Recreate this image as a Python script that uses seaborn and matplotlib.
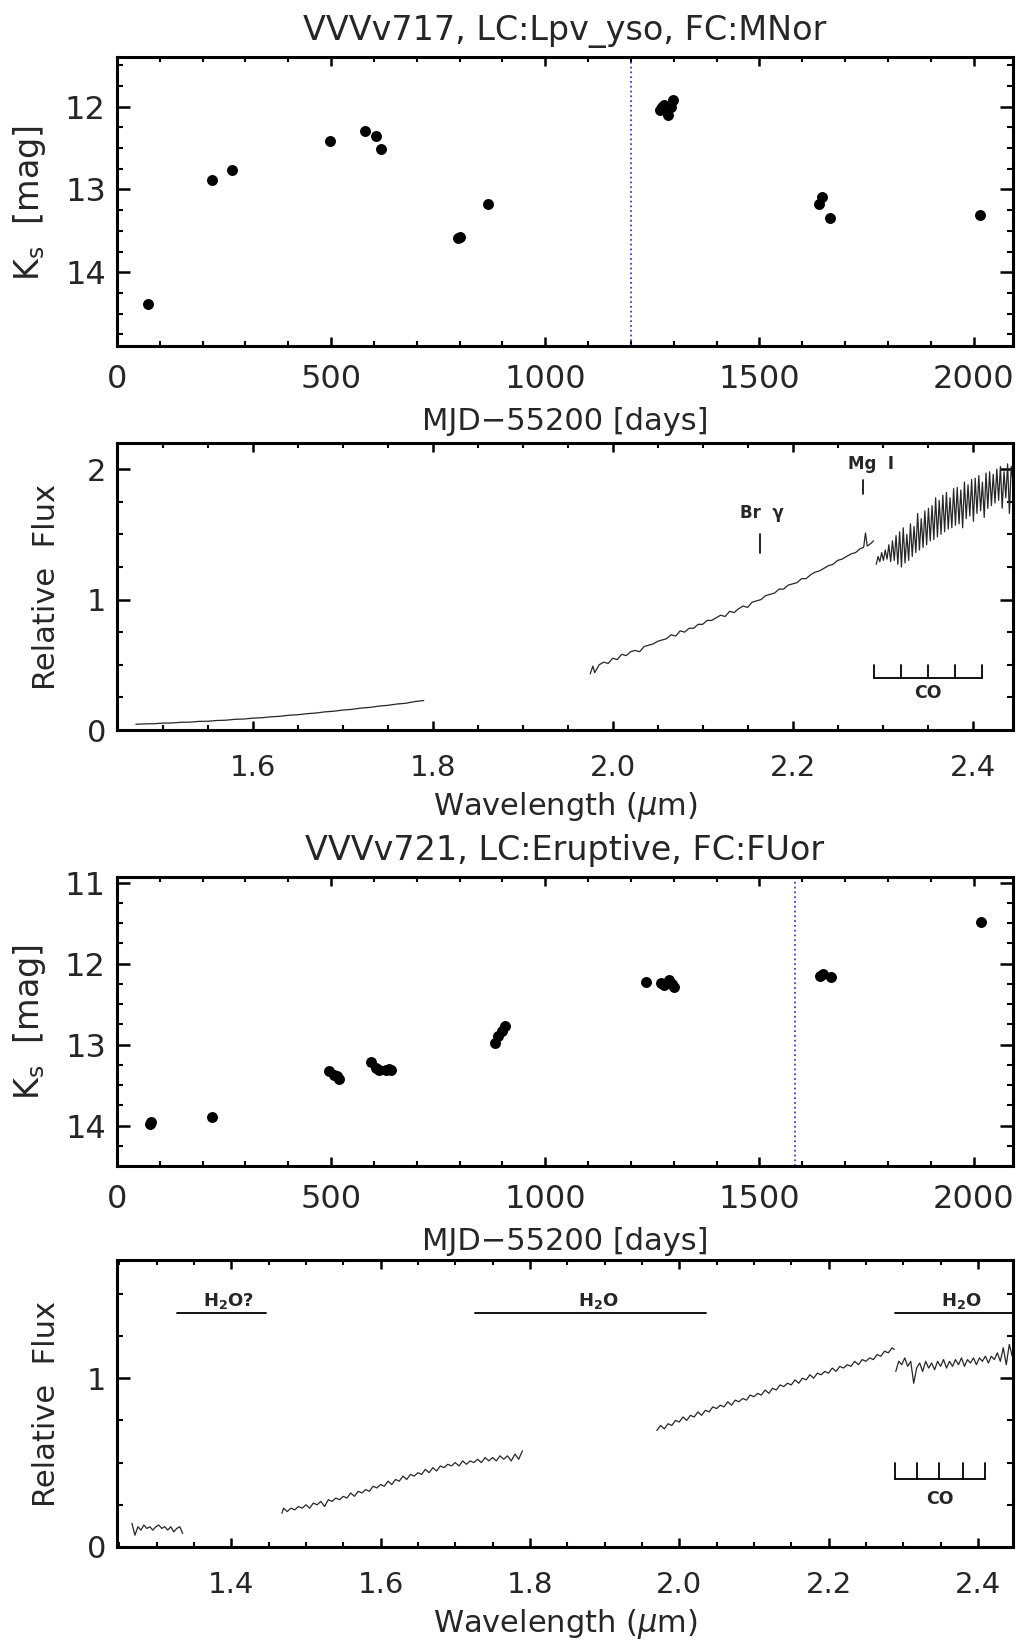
import numpy as np
import pandas as pd
import seaborn as sns
import matplotlib.pyplot as plt
from matplotlib.ticker import MultipleLocator

# ---- light curves ----
lc1_mjd = [72, 222, 268, 498, 579, 604, 616, 796, 800, 867,
           1268, 1272, 1278, 1287, 1293, 1298, 1640, 1646, 1664, 2014]
lc1_ks = [14.38, 12.88, 12.77, 12.41, 12.29, 12.36, 12.51, 13.58, 13.57, 13.17,
          12.04, 12.00, 11.98, 12.10, 12.00, 11.92, 13.18, 13.09, 13.34, 13.31]
lc1_line = 1200

lc2_mjd = [76, 80, 222, 496, 507, 513, 519, 593, 605, 612, 628, 634, 640,
           882, 890, 900, 906, 1236, 1271, 1278, 1289, 1295, 1301, 1641, 1649, 1667, 2017]
lc2_ks = [13.98, 13.96, 13.90, 13.33, 13.37, 13.39, 13.42, 13.22, 13.29, 13.31, 13.31, 13.30, 13.31,
          12.98, 12.89, 12.83, 12.77, 12.23, 12.24, 12.26, 12.20, 12.25, 12.29, 12.15, 12.13, 12.17, 11.49]
lc2_line = 1584

# ---- spectrum of VVVv717 (wavelength um, relative flux) ----
sp1_h = [(1.470, 0.044), (1.480, 0.047), (1.490, 0.048), (1.500, 0.053), (1.510, 0.054),
         (1.520, 0.059), (1.530, 0.060), (1.540, 0.066), (1.550, 0.067), (1.560, 0.073),
         (1.570, 0.075), (1.580, 0.082), (1.590, 0.084), (1.600, 0.091), (1.610, 0.094),
         (1.620, 0.101), (1.630, 0.105), (1.640, 0.113), (1.650, 0.117), (1.660, 0.125),
         (1.670, 0.130), (1.680, 0.139), (1.690, 0.144), (1.700, 0.153), (1.710, 0.158),
         (1.720, 0.168), (1.730, 0.173), (1.740, 0.183), (1.750, 0.189), (1.760, 0.199),
         (1.770, 0.205), (1.780, 0.218), (1.790, 0.226)]
sp1_k = [(1.975, 0.43), (1.978, 0.49), (1.980, 0.44), (1.985, 0.50), (1.990, 0.52),
         (1.995, 0.51), (2.000, 0.55), (2.005, 0.54), (2.010, 0.58), (2.015, 0.57),
         (2.020, 0.60), (2.025, 0.61), (2.030, 0.60), (2.035, 0.64), (2.040, 0.65),
         (2.045, 0.66), (2.050, 0.68), (2.055, 0.69), (2.060, 0.70), (2.065, 0.73),
         (2.070, 0.72), (2.075, 0.76), (2.080, 0.75), (2.085, 0.78), (2.090, 0.78),
         (2.095, 0.81), (2.100, 0.81), (2.105, 0.84), (2.110, 0.84), (2.115, 0.86),
         (2.120, 0.88), (2.125, 0.87), (2.130, 0.91), (2.135, 0.90), (2.140, 0.93),
         (2.145, 0.95), (2.150, 0.94), (2.155, 0.98), (2.160, 0.99), (2.165, 1.00),
         (2.170, 1.03), (2.175, 1.04), (2.180, 1.05), (2.185, 1.08), (2.190, 1.08),
         (2.195, 1.11), (2.200, 1.12), (2.205, 1.13), (2.210, 1.16), (2.215, 1.16),
         (2.220, 1.19), (2.225, 1.21), (2.230, 1.22), (2.235, 1.24), (2.240, 1.26),
         (2.245, 1.27), (2.250, 1.30), (2.255, 1.31), (2.260, 1.33), (2.265, 1.35),
         (2.270, 1.36), (2.275, 1.39), (2.279, 1.40), (2.281, 1.51), (2.283, 1.41),
         (2.287, 1.43), (2.290, 1.45)]
sp1_co = [(2.293, 1.27), (2.295, 1.33), (2.297, 1.29), (2.299, 1.36), (2.301, 1.30),
          (2.303, 1.38), (2.305, 1.31), (2.307, 1.42), (2.309, 1.29), (2.311, 1.45),
          (2.313, 1.30), (2.315, 1.49), (2.317, 1.27), (2.319, 1.52), (2.321, 1.25),
          (2.323, 1.55), (2.325, 1.28), (2.327, 1.50), (2.329, 1.30), (2.331, 1.58),
          (2.333, 1.33), (2.335, 1.56), (2.337, 1.36), (2.339, 1.66), (2.341, 1.38),
          (2.343, 1.62), (2.345, 1.40), (2.347, 1.68), (2.349, 1.42), (2.351, 1.70),
          (2.353, 1.45), (2.355, 1.72), (2.357, 1.46), (2.359, 1.78), (2.361, 1.48),
          (2.363, 1.76), (2.365, 1.50), (2.367, 1.80), (2.369, 1.52), (2.371, 1.82),
          (2.373, 1.54), (2.375, 1.78), (2.377, 1.55), (2.379, 1.85), (2.381, 1.57),
          (2.383, 1.86), (2.385, 1.58), (2.387, 1.84), (2.389, 1.55), (2.391, 1.90),
          (2.393, 1.62), (2.395, 1.88), (2.397, 1.64), (2.399, 1.92), (2.401, 1.60),
          (2.403, 1.93), (2.405, 1.66), (2.407, 1.95), (2.409, 1.68), (2.411, 1.90),
          (2.413, 1.63), (2.415, 1.97), (2.417, 1.70), (2.419, 1.98), (2.421, 1.72),
          (2.423, 1.96), (2.425, 1.74), (2.427, 2.00), (2.429, 1.76), (2.431, 2.02),
          (2.433, 1.70), (2.435, 1.98), (2.437, 1.78), (2.439, 2.04), (2.441, 1.66),
          (2.443, 2.02), (2.445, 1.90)]

# ---- spectrum of VVVv721 ----
sp2_j = [(1.267, 0.14), (1.271, 0.07), (1.275, 0.12), (1.279, 0.10), (1.283, 0.13),
         (1.287, 0.11), (1.291, 0.12), (1.295, 0.10), (1.299, 0.12), (1.303, 0.13),
         (1.307, 0.11), (1.311, 0.12), (1.315, 0.10), (1.319, 0.12), (1.323, 0.09),
         (1.327, 0.11), (1.331, 0.12), (1.335, 0.08)]
sp2_h = [(1.468, 0.20), (1.470, 0.23), (1.475, 0.21), (1.480, 0.23), (1.485, 0.22),
         (1.490, 0.24), (1.495, 0.23), (1.500, 0.25), (1.505, 0.23), (1.510, 0.26),
         (1.515, 0.25), (1.520, 0.27), (1.525, 0.24), (1.530, 0.28), (1.535, 0.27),
         (1.540, 0.29), (1.545, 0.28), (1.550, 0.30), (1.555, 0.29), (1.560, 0.32),
         (1.565, 0.30), (1.570, 0.33), (1.575, 0.32), (1.580, 0.34), (1.585, 0.33),
         (1.590, 0.36), (1.595, 0.35), (1.600, 0.37), (1.605, 0.36), (1.610, 0.39),
         (1.615, 0.37), (1.620, 0.40), (1.625, 0.39), (1.630, 0.42), (1.635, 0.40),
         (1.640, 0.43), (1.645, 0.42), (1.650, 0.44), (1.655, 0.43), (1.660, 0.46),
         (1.665, 0.44), (1.670, 0.47), (1.675, 0.45), (1.680, 0.48), (1.685, 0.47),
         (1.690, 0.49), (1.695, 0.48), (1.700, 0.50), (1.705, 0.48), (1.710, 0.51),
         (1.715, 0.49), (1.720, 0.51), (1.725, 0.50), (1.730, 0.52), (1.735, 0.50),
         (1.740, 0.53), (1.745, 0.51), (1.750, 0.53), (1.755, 0.51), (1.760, 0.54),
         (1.765, 0.52), (1.770, 0.54), (1.775, 0.51), (1.780, 0.55), (1.785, 0.52),
         (1.790, 0.57)]
sp2_k = [(1.970, 0.69), (1.975, 0.72), (1.980, 0.70), (1.985, 0.73), (1.990, 0.72),
         (1.995, 0.75), (2.000, 0.74), (2.005, 0.77), (2.010, 0.75), (2.015, 0.78),
         (2.020, 0.77), (2.025, 0.80), (2.030, 0.78), (2.035, 0.81), (2.040, 0.80),
         (2.045, 0.83), (2.050, 0.82), (2.055, 0.84), (2.060, 0.83), (2.065, 0.86),
         (2.070, 0.84), (2.075, 0.87), (2.080, 0.86), (2.085, 0.88), (2.090, 0.87),
         (2.095, 0.90), (2.100, 0.89), (2.105, 0.91), (2.110, 0.90), (2.115, 0.93),
         (2.120, 0.91), (2.125, 0.94), (2.130, 0.93), (2.135, 0.96), (2.140, 0.95),
         (2.145, 0.97), (2.150, 0.96), (2.155, 0.99), (2.160, 0.97), (2.165, 1.00),
         (2.170, 0.99), (2.175, 1.02), (2.180, 1.00), (2.185, 1.03), (2.190, 1.02),
         (2.195, 1.04), (2.200, 1.03), (2.205, 1.06), (2.210, 1.04), (2.215, 1.07),
         (2.220, 1.06), (2.225, 1.08), (2.230, 1.07), (2.235, 1.10), (2.240, 1.08),
         (2.245, 1.11), (2.250, 1.10), (2.255, 1.12), (2.260, 1.11), (2.265, 1.14),
         (2.270, 1.13), (2.275, 1.16), (2.280, 1.15), (2.285, 1.18), (2.288, 1.17)]
sp2_co = [(2.290, 1.04), (2.294, 1.10), (2.298, 1.08), (2.302, 1.12), (2.306, 1.07),
          (2.310, 1.10), (2.314, 0.97), (2.318, 1.06), (2.322, 1.09), (2.326, 1.04),
          (2.330, 1.10), (2.334, 1.06), (2.338, 1.09), (2.342, 1.05), (2.346, 1.10),
          (2.350, 1.07), (2.354, 1.11), (2.358, 1.06), (2.362, 1.10), (2.366, 1.07),
          (2.370, 1.11), (2.374, 1.08), (2.378, 1.12), (2.382, 1.07), (2.386, 1.11),
          (2.390, 1.09), (2.394, 1.12), (2.398, 1.08), (2.402, 1.12), (2.406, 1.10),
          (2.410, 1.13), (2.414, 1.09), (2.418, 1.13), (2.422, 1.11), (2.426, 1.15),
          (2.430, 1.10), (2.434, 1.18), (2.438, 1.08), (2.442, 1.20), (2.446, 1.13)]

# line markers
co_heads_1 = [2.290, 2.320, 2.350, 2.380, 2.411]
co_heads_2 = [2.289, 2.319, 2.348, 2.380, 2.410]
brg_wave = 2.1635
mg_wave = 2.278
h2o_bands = [(1.327, 1.446, "H$_\\mathbf{2}$O?"), (1.727, 2.036, "H$_\\mathbf{2}$O"),
             (2.289, 2.447, "H$_\\mathbf{2}$O")]

sns.set_style("ticks")
plt.rcParams["font.family"] = ["DejaVu Sans"]
plt.rcParams["mathtext.fontset"] = "dejavusans"

W, H = 1016, 1643
fig = plt.figure(figsize=(W / 100, H / 100), dpi=100)


def box(top, bottom):
    return [117 / W, 1 - bottom / H, (1013 - 117) / W, (bottom - top) / H]


def ftext(x, y, s, **kw):
    fig.text(x / W, 1 - y / H, s, **kw)


def style(ax, xmaj, xmin, ymaj, ymin, xsize, ysize, xpad):
    ax.xaxis.set_major_locator(MultipleLocator(xmaj))
    ax.xaxis.set_minor_locator(MultipleLocator(xmin))
    ax.yaxis.set_major_locator(MultipleLocator(ymaj))
    ax.yaxis.set_minor_locator(MultipleLocator(ymin))
    ax.tick_params(which="both", direction="in", top=True, right=True, color="black")
    ax.tick_params(axis="x", which="major", length=6.5, width=1.8, labelsize=xsize, pad=xpad)
    ax.tick_params(axis="x", which="minor", length=3.6, width=1.5)
    ax.tick_params(axis="y", which="major", length=9.5, width=1.8, labelsize=ysize, pad=8)
    ax.tick_params(axis="y", which="minor", length=4.5, width=1.5)
    for s in ax.spines.values():
        s.set_linewidth(2.2)
        s.set_color("black")
    ax.set_xlabel("")
    ax.set_ylabel("")


def light_curve(ax, mjd, ks, vline, ylim):
    df = pd.DataFrame({"mjd": mjd, "ks": ks})
    sns.scatterplot(data=df, x="mjd", y="ks", ax=ax, color="black", s=62,
                    linewidth=0, legend=False, zorder=3)
    ax.axvline(vline, color="#3b3bd6", ls=":", lw=1.3)
    ax.set_xlim(0, 2092)
    ax.set_ylim(*ylim)
    style(ax, 500, 100, 1, 0.25, 23, 23, 13)


def spectrum(ax, segs):
    for seg in segs:
        w, f = zip(*seg)
        sns.lineplot(x=list(w), y=list(f), ax=ax, color="#262626", lw=0.9,
                     estimator=None, sort=False)


def co_bracket(ax, heads):
    ax.plot([heads[0], heads[-1]], [0.40, 0.40], color="black", lw=1.3)
    for h in heads:
        ax.plot([h, h], [0.40, 0.495], color="black", lw=1.3)
    ax.text(np.mean([heads[0], heads[-1]]), 0.285, "CO", ha="center", va="center",
            fontsize=12.5, fontweight="bold")


# panel 1
ax1 = fig.add_axes(box(57, 346))
light_curve(ax1, lc1_mjd, lc1_ks, lc1_line, (14.89, 11.4))

# panel 2
ax2 = fig.add_axes(box(443, 730))
spectrum(ax2, [sp1_h, sp1_k, sp1_co])
ax2.set_xlim(1.449, 2.445)
ax2.set_ylim(0, 2.2)
style(ax2, 0.2, 0.05, 1, 0.25, 21, 22, 17)
ax2.plot([brg_wave, brg_wave], [1.36, 1.50], color="black", lw=1.2)
ax2.text(2.166, 1.66, "Br  γ", ha="center", va="center", fontsize=12, fontweight="bold")
ax2.plot([mg_wave, mg_wave], [1.81, 1.92], color="black", lw=1.2)
ax2.text(2.287, 2.04, "Mg  I", ha="center", va="center", fontsize=12, fontweight="bold")
co_bracket(ax2, co_heads_1)

# panel 3
ax3 = fig.add_axes(box(877, 1166))
light_curve(ax3, lc2_mjd, lc2_ks, lc2_line, (14.5, 10.93))

# panel 4
ax4 = fig.add_axes(box(1260, 1547))
spectrum(ax4, [sp2_j, sp2_h, sp2_k, sp2_co])
ax4.set_xlim(1.247, 2.447)
ax4.set_ylim(0, 1.7)
style(ax4, 0.2, 0.05, 1, 0.25, 21, 22, 17)
for x0, x1, lab in h2o_bands:
    ax4.plot([x0, x1], [1.385, 1.385], color="black", lw=1.3, clip_on=False)
    ax4.text((x0 + x1) / 2 + 0.01, 1.46, lab, ha="center", va="center",
             fontsize=13, fontweight="bold")
co_bracket(ax4, co_heads_2)

# titles and axis labels
ftext(565, 40, "VVVv717, LC:Lpv_yso, FC:MNor", ha="center", va="baseline", fontsize=24)
ftext(565, 860, "VVVv721, LC:Eruptive, FC:FUor", ha="center", va="baseline", fontsize=24)
ftext(565, 430, "MJD\u221255200 [days]", ha="center", va="baseline", fontsize=22)
ftext(565, 1250, "MJD\u221255200 [days]", ha="center", va="baseline", fontsize=22)
ftext(565, 815, "Wavelength ($\\mu$m)", ha="center", va="baseline", fontsize=22)
ftext(565, 1632, "Wavelength ($\\mu$m)", ha="center", va="baseline", fontsize=22)
ftext(30, 203, "K$_\\mathrm{s}$  [mag]", ha="center", va="center", rotation=90, fontsize=24)
ftext(30, 1022, "K$_\\mathrm{s}$  [mag]", ha="center", va="center", rotation=90, fontsize=24)
ftext(47, 587, "Relative  Flux", ha="center", va="center", rotation=90, fontsize=22)
ftext(47, 1404, "Relative  Flux", ha="center", va="center", rotation=90, fontsize=22)

fig.savefig("out.png", dpi=100)
